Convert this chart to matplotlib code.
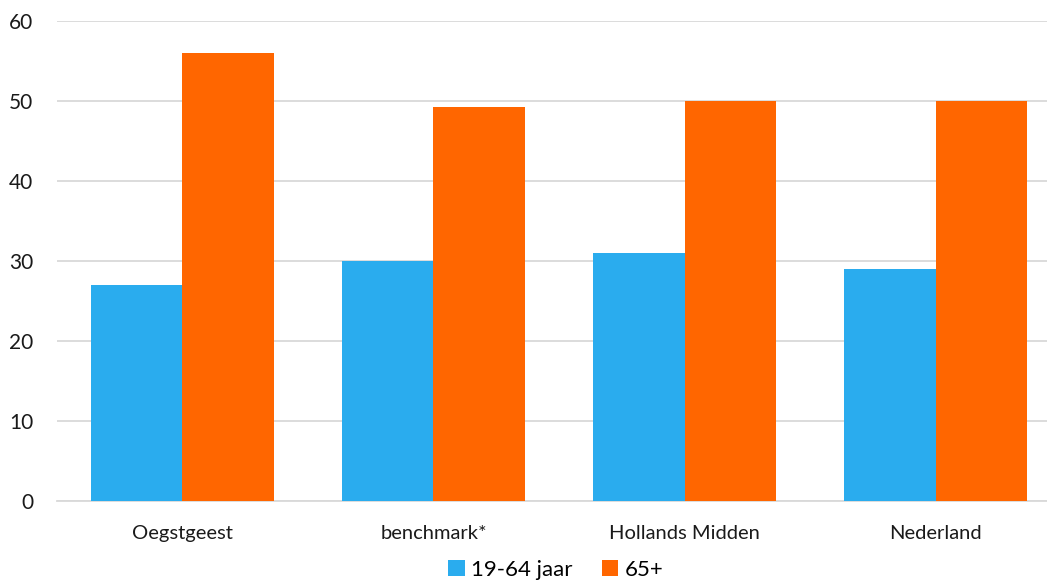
import numpy as np
import matplotlib.pyplot as plt

categories = ['Oegstgeest', 'benchmark*', 'Hollands Midden', 'Nederland']
series_names = ['19-64 jaar', '65+']
values_1964 = [27, 30, 31, 29]
values_65 = [56, 49.2, 50, 50]

colors = ['#2AACEE', '#FF6600']

plt.rcParams['font.family'] = ['Lato', 'DejaVu Sans']

fig = plt.figure(figsize=(10.47, 5.81), dpi=100)
# plot area runs past the right edge of the picture, as in the reference
ax = fig.add_axes([0.0544, 0.1377, 0.959, 0.8262])

x = np.arange(len(categories))
w = 0.363
ax.bar(x - w / 2, values_1964, width=w, color=colors[0], label=series_names[0], zorder=3)
ax.bar(x + w / 2, values_65, width=w, color=colors[1], label=series_names[1], zorder=3)

ax.set_xlim(-0.5, len(categories) - 0.5)
ax.set_ylim(0, 60)
ax.set_yticks(range(0, 61, 10))
ax.set_xticks(x)
ax.set_xticklabels(categories, fontsize=14.5, color='#1a1a1a')
ax.tick_params(axis='y', labelsize=15, colors='#1a1a1a', length=0, pad=17)
ax.tick_params(axis='x', length=0, pad=17)

ax.grid(axis='y', color='#d9d9d9', linewidth=1.3, zorder=0)
for s in ['top', 'right', 'left']:
    ax.spines[s].set_visible(False)
ax.spines['bottom'].set_color('#d9d9d9')
ax.spines['bottom'].set_linewidth(1.3)

fig.legend(loc='center', bbox_to_anchor=(0.531, 0.019), ncol=2, frameon=False,
           fontsize=16, handlelength=0.75, handleheight=0.75, handletextpad=0.3,
           columnspacing=1.3)

fig.savefig('out.png', dpi=100)
